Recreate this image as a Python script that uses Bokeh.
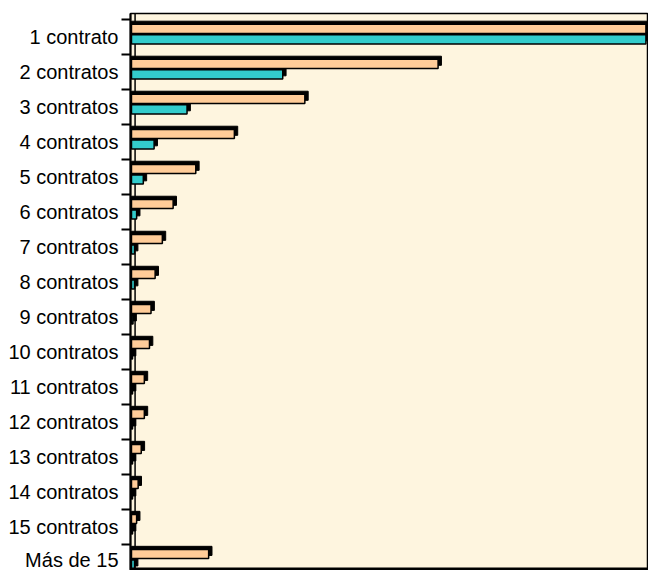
from bokeh.plotting import figure
from bokeh.models import ColumnDataSource, Range1d, FixedTicker, Span
from bokeh.transform import dodge
from bokeh.embed import file_html
from bokeh.resources import INLINE

categories = ["1 contrato", "2 contratos", "3 contratos", "4 contratos", "5 contratos",
              "6 contratos", "7 contratos", "8 contratos", "9 contratos", "10 contratos",
              "11 contratos", "12 contratos", "13 contratos", "14 contratos", "15 contratos",
              "Más de 15"]
serie_a = [100, 59.6, 33.7, 20.0, 12.5, 8.1, 6.0, 4.6, 3.8, 3.5, 2.5, 2.5, 1.9, 1.3, 1.0, 15.0]
serie_b = [100, 29.4, 10.8, 4.4, 2.3, 1.0, 0.6, 0.6, 0.3, 0.2, 0.2, 0.2, 0.2, 0.2, 0.2, 0.6]

n = len(categories)
ypos = [n - 1 - i for i in range(n)]
src = ColumnDataSource(dict(y=ypos, a=serie_a, b=serie_b, cat=categories))

y_end = 15.67
y_start = -0.24
p = figure(width=648, height=570, output_backend="svg", toolbar_location=None,
           x_range=Range1d(-0.19, 100.5), y_range=Range1d(y_start, y_end),
           min_border_left=130, min_border_right=0, min_border_top=13, min_border_bottom=0)

p.background_fill_color = "#FEF5DF"
p.border_fill_color = "white"
p.outline_line_color = "black"
p.outline_line_width = 1.5
p.xgrid.visible = False
p.ygrid.visible = False
p.xaxis.visible = False

# back wall line
p.add_layout(Span(location=0.7, dimension="height", line_color="black", line_width=1.5, level="underlay"))
# floor line
p.add_layout(Span(location=y_start, dimension="width", line_color="black", line_width=6))

h = 0.26
off_a = 0.23
off_b = -0.07
dx = 0.65
dy = 0.09

# teal series (shadow + face)
p.hbar(y=dodge("y", off_b + dy, range=p.y_range), left=0, right=dodge("b", dx), height=h,
       source=src, fill_color="black", line_color="black")
p.hbar(y=dodge("y", off_b, range=p.y_range), left=0, right="b", height=h,
       source=src, fill_color="#33CCCC", line_color="black", line_width=1.5)
# peach series (shadow + face)
p.hbar(y=dodge("y", off_a + dy, range=p.y_range), left=0, right=dodge("a", dx), height=h,
       source=src, fill_color="black", line_color="black")
p.hbar(y=dodge("y", off_a, range=p.y_range), left=0, right="a", height=h,
       source=src, fill_color="#FFCC99", line_color="black", line_width=1.5)

ax = p.yaxis[0]
ax.ticker = FixedTicker(ticks=ypos, minor_ticks=[v + 0.5 for v in ypos] + [-0.5])
ax.major_label_overrides = {y: c for y, c in zip(ypos, categories)}
ax.major_tick_out = 0
ax.major_tick_in = 0
ax.minor_tick_out = 9
ax.minor_tick_in = 0
ax.minor_tick_line_width = 2
ax.axis_line_width = 2
ax.major_label_standoff = 3
ax.major_label_text_font = "Liberation Sans"
ax.major_label_text_font_size = "20px"
ax.major_label_text_color = "black"

open("out.html", "w").write(file_html(p, INLINE))
